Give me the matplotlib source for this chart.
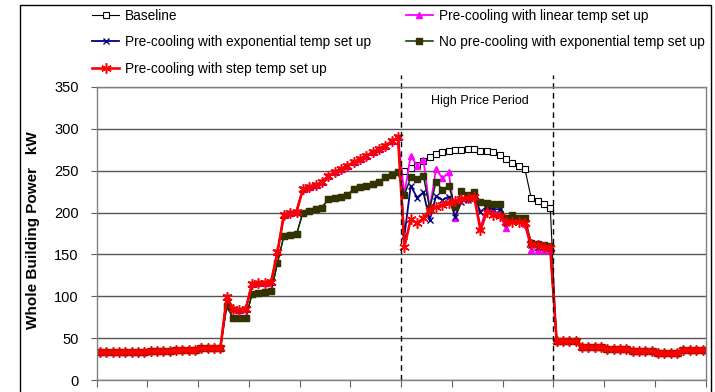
import numpy as np
import matplotlib.pyplot as plt
from matplotlib.patches import Rectangle

plt.rcParams['font.family'] = ['Liberation Sans', 'DejaVu Sans']

# 15-minute readings over one day (96 points), plotted at the centre of each slot
hours = (np.arange(96) + 0.5) / 4

# 00:00 - 12:00, shared by all pre-cooling strategies
morning_precool = [33, 33, 33, 33, 34, 34, 34, 34, 35, 35, 35, 35,
                   36, 36, 36, 36, 38, 38, 38, 38, 99, 85, 84, 85,
                   115, 116, 116, 117, 153, 197, 199, 201, 228, 231, 233, 236,
                   244, 248, 252, 256, 260, 264, 268, 272, 276, 280, 285, 290]
# 00:00 - 12:00, baseline and no pre-cooling
morning_no_precool = [33, 33, 33, 33, 34, 34, 34, 34, 35, 35, 35, 35,
                      36, 36, 36, 36, 38, 38, 38, 38, 88, 74, 74, 74,
                      103, 104, 105, 106, 140, 172, 173, 174, 200, 202, 204, 206,
                      216, 218, 219, 221, 228, 230, 232, 234, 237, 242, 245, 248]
# 18:00 - 24:00, all cases
evening_all = [47, 47, 46, 46, 39, 39, 39, 39, 37, 37, 37, 37,
               35, 35, 35, 35, 32, 32, 32, 32, 36, 36, 36, 36]

# 12:00 - 18:00 (high price period)
peak_baseline = [250, 253, 257, 262, 266, 270, 272, 274, 275, 275, 276, 276,
                 273, 273, 272, 269, 264, 259, 256, 252, 217, 214, 210, 205]
peak_linear = [222, 268, 256, 263, 205, 252, 241, 248, 194, 218, 218, 220,
               182, 207, 199, 199, 181, 192, 191, 186, 155, 155, 155, 155]
peak_expo = [172, 232, 218, 224, 191, 220, 215, 219, 195, 213, 215, 219,
             201, 207, 204, 204, 187, 193, 193, 189, 161, 159, 159, 158]
peak_no_precool = [221, 242, 240, 244, 205, 237, 227, 232, 207, 226, 221, 224,
                   213, 211, 210, 210, 193, 197, 194, 193, 164, 162, 161, 160]
peak_step = [159, 192, 187, 193, 203, 207, 209, 212, 214, 216, 217, 219,
             179, 201, 197, 196, 189, 189, 189, 187, 162, 161, 159, 158]

baseline = morning_no_precool + peak_baseline + evening_all
linear = morning_precool + peak_linear + evening_all
expo = morning_precool + peak_expo + evening_all
no_precool = morning_no_precool + peak_no_precool + evening_all
step = morning_precool + peak_step + evening_all

fig = plt.figure(figsize=(7.15, 3.92), dpi=100)
ax = fig.add_axes([96.7 / 715, 12 / 392, 609 / 715, 293 / 392])

l_base, = ax.plot(hours, baseline, color='black', lw=0.8, marker='s', ms=4.5,
                  mfc='white', mec='black', mew=0.8, label='Baseline')
l_lin, = ax.plot(hours, linear, color='#FF00FF', lw=1.3, marker='^', ms=5,
                 mfc='#FF00FF', mec='#FF00FF', label='Pre-cooling with linear temp set up')
l_exp, = ax.plot(hours, expo, color='#000080', lw=1.3, marker='x', ms=4, mew=1,
                 label='Pre-cooling with exponential temp set up')
l_no, = ax.plot(hours, no_precool, color='#003300', lw=1.1, marker='s', ms=4.5,
                mfc='#333300', mec='#333300',
                label='No pre-cooling with exponential temp set up')
l_step, = ax.plot(hours, step, color='#FF0000', lw=1.9, marker=(6, 2, 0), ms=7.5, mew=1.1,
                  label='Pre-cooling with step temp set up')

# high price period markers
for xv in (12, 18):
    ax.plot([xv, xv], [0, 364], color='black', lw=1, ls=(0, (4, 3)), clip_on=False)
ax.text(15.1, 333, 'High Price Period', fontsize=9, ha='center', va='center')

ax.set_xlim(0, 24)
ax.set_ylim(0, 350)
ax.set_xticks(np.arange(0, 25, 2))
ax.set_xticklabels([])
ax.set_yticks(np.arange(0, 351, 50))
ax.tick_params(axis='y', labelsize=10.5, length=4, pad=9, color='#606060')
ax.tick_params(axis='x', length=5, color='#606060')
ax.yaxis.grid(True, color='#555555', lw=1)
ax.set_axisbelow(True)
for s in ax.spines.values():
    s.set_color('#808080')
    s.set_linewidth(1)

fig.text(33 / 715, 1 - 230 / 392, 'Whole Building Power   kW', rotation=90,
         fontsize=11, fontweight='bold', ha='center', va='center')

fig.legend(handles=[l_base, l_exp, l_step, l_lin, l_no], loc='upper left',
           bbox_to_anchor=(92 / 715, 1 - 9 / 392), ncol=2, frameon=False,
           fontsize=9.8, handlelength=2.0, handletextpad=0.45, columnspacing=2.5,
           labelspacing=0.9, borderpad=0, borderaxespad=0)

fig.add_artist(Rectangle((20 / 715, -0.05), 691 / 715, 1.05 - 5 / 392,
                         transform=fig.transFigure, fill=False, ec='black', lw=1))

fig.savefig('out.png', dpi=100)
